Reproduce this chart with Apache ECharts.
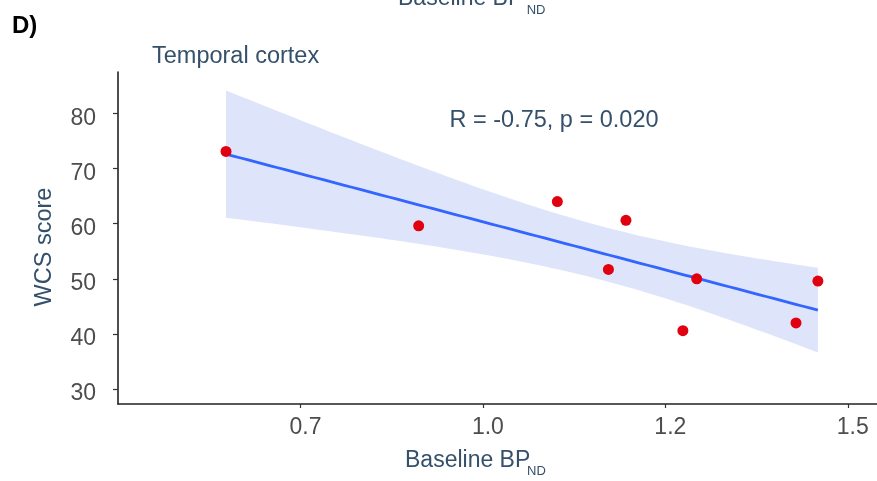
<!DOCTYPE html>
<html>
<head>
<meta charset="utf-8">
<script src="https://cdn.jsdelivr.net/npm/echarts@6/dist/echarts.min.js"></script>
<style>
html,body{margin:0;padding:0;background:#fff;}
#chart{width:877px;height:481px;}
</style>
</head>
<body>
<div id="chart"></div>
<script>
// ---- data ----
const xVals = [0.648, 0.912, 1.102, 1.196, 1.172, 1.293, 1.459, 1.274, 1.429];
const yVals = [73.1, 59.6, 64.0, 60.6, 51.7, 50.0, 49.6, 40.6, 42.0];
const xTickValues = [0.75, 1.0, 1.25, 1.5];
const xTickLabels = ['0.7', '1.0', '1.2', '1.5'];
const yTickValues = [30, 40, 50, 60, 70, 80];
const statText = 'R = -0.75, p = 0.020';
const panelTitle = 'Temporal cortex';
const yName = 'WCS score';
const T_CRIT = 2.3646; // t(0.975, df = 7)

// ---- linear fit (as geom_smooth(method = "lm")) ----
const n = xVals.length;
const mx = xVals.reduce((a, b) => a + b, 0) / n;
const my = yVals.reduce((a, b) => a + b, 0) / n;
let sxx = 0, sxy = 0;
for (let i = 0; i < n; i++) { sxx += (xVals[i] - mx) ** 2; sxy += (xVals[i] - mx) * (yVals[i] - my); }
const slope = sxy / sxx, icpt = my - slope * mx;
let sse = 0;
for (let i = 0; i < n; i++) { sse += (yVals[i] - (icpt + slope * xVals[i])) ** 2; }
const s = Math.sqrt(sse / (n - 2));
const xMin = Math.min(...xVals), xMax = Math.max(...xVals);
const fitLine = [], band = [];
const STEPS = 80;
for (let k = 0; k <= STEPS; k++) {
  const x = xMin + (xMax - xMin) * k / STEPS;
  const yh = icpt + slope * x;
  const se = s * Math.sqrt(1 / n + (x - mx) ** 2 / sxx);
  fitLine.push([x, yh]);
  band.push([x, yh - T_CRIT * se, yh + T_CRIT * se]);
}
const scatterData = xVals.map((x, i) => [x, yVals[i]]);

const FONT = '"Liberation Sans", Arial, Helvetica, sans-serif';
const SLATE = '#34506B';
const TICKGREY = '#4D4D4D';

const chart = echarts.init(document.getElementById('chart'), null, {renderer: 'canvas'});
chart.setOption({
  animation: false,
  backgroundColor: '#fff',
  grid: {left: 118, right: 0, top: 72, bottom: 77, containLabel: false},
  xAxis: {
    type: 'value', min: 0.5, max: 1.54,
    splitLine: {show: false},
    axisLine: {show: true, lineStyle: {color: '#222', width: 1.6}},
    axisTick: {show: true, length: 4, lineStyle: {color: '#333', width: 1.2}, customValues: xTickValues},
    axisLabel: {
      customValues: xTickValues,
      margin: 12, padding: [0, 0, 0, 10], color: TICKGREY, fontSize: 23, fontFamily: FONT,
      formatter: v => { const i = xTickValues.findIndex(t => Math.abs(t - v) < 1e-6); return i >= 0 ? xTickLabels[i] : ''; }
    }
  },
  yAxis: {
    type: 'value', min: 27.3, max: 87.5,
    splitLine: {show: false},
    axisLine: {show: true, lineStyle: {color: '#222', width: 1.6}},
    axisTick: {show: true, length: 5, lineStyle: {color: '#333', width: 1.2}, customValues: yTickValues},
    axisLabel: {
      customValues: yTickValues, margin: 22,
      formatter: v => '{a|' + v + '}',
      rich: {a: {padding: [10, 0, 0, 0], color: TICKGREY, fontSize: 23, fontFamily: FONT}}
    }
  },
  series: [
    {
      type: 'custom', z: 1, silent: true,
      data: band,
      encode: {x: 0, y: [1, 2]},
      renderItem: function (params, api) {
        if (params.dataIndex !== 0) return null;
        const pts = [];
        for (let i = 0; i < band.length; i++) pts.push(api.coord([band[i][0], band[i][2]]));
        for (let i = band.length - 1; i >= 0; i--) pts.push(api.coord([band[i][0], band[i][1]]));
        return {type: 'polygon', shape: {points: pts}, style: {fill: '#DEE5FB'}};
      }
    },
    {
      type: 'line', z: 2, data: fitLine, symbol: 'none', smooth: false,
      lineStyle: {color: '#3366FF', width: 2.8}
    },
    {
      type: 'scatter', z: 3, data: scatterData, symbol: 'circle', symbolSize: 11,
      itemStyle: {color: '#E0000F', opacity: 1}
    }
  ],
  graphic: [
    {type: 'text', left: 12, top: 14, style: {text: 'D)', font: 'bold 24px ' + FONT, fill: '#000'}},
    {type: 'text', x: 152, y: 57, style: {text: panelTitle, font: '23.5px ' + FONT, fill: SLATE, textAlign: 'left', textVerticalAlign: 'middle'}},
    {type: 'text', x: 554, y: 121, style: {text: statText, font: '23.5px ' + FONT, fill: SLATE, textAlign: 'center', textVerticalAlign: 'middle'}},
    {type: 'text', x: 44.5, y: 247, rotation: Math.PI / 2, style: {text: yName, font: '23.5px ' + FONT, fill: SLATE, textAlign: 'center', textVerticalAlign: 'middle'}},
    {type: 'text', x: 405, y: 461, style: {text: 'Baseline BP', font: '23px ' + FONT, fill: SLATE, textAlign: 'left', textVerticalAlign: 'middle'}},
    {type: 'text', x: 527, y: 471, style: {text: 'ND', font: '13px ' + FONT, fill: SLATE, textAlign: 'left', textVerticalAlign: 'middle'}},
    {type: 'text', x: 398, y: -1.3, style: {text: 'Baseline BP', font: '23px ' + FONT, fill: SLATE, textAlign: 'left', textVerticalAlign: 'middle'}},
    {type: 'text', x: 526.7, y: 10.3, style: {text: 'ND', font: '13px ' + FONT, fill: SLATE, textAlign: 'left', textVerticalAlign: 'middle'}}
  ]
});
</script>
</body>
</html>
